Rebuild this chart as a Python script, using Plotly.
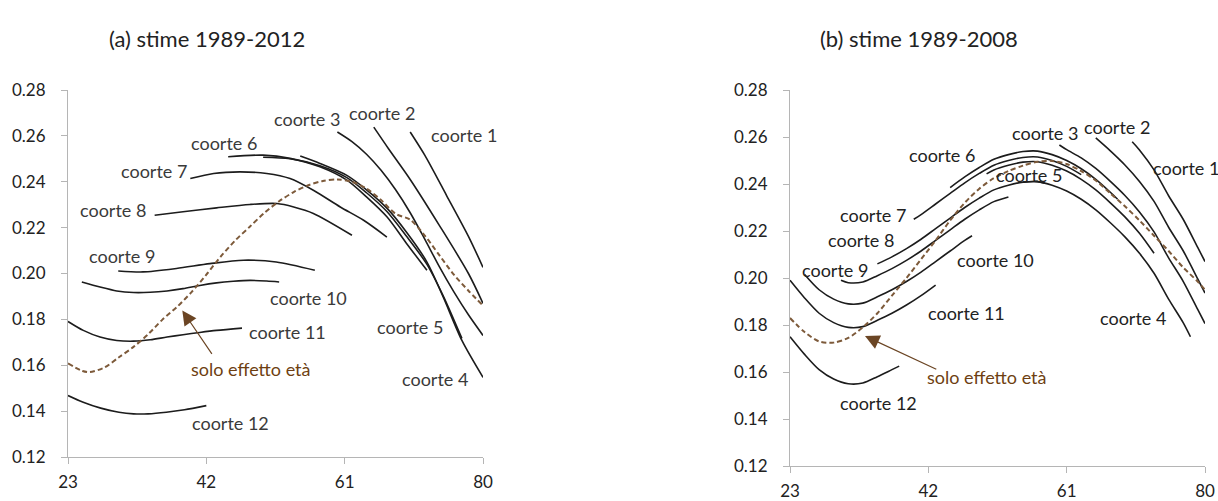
import plotly.graph_objects as go

# ---------------- Panel (a): stime 1989-2012 ----------------
a_c1_age = [70, 72, 75, 78, 80]
a_c1_val = [0.2617, 0.2516, 0.2340, 0.2162, 0.2027]
a_c2_age = [65, 67, 70, 74, 78, 80]
a_c2_val = [0.2638, 0.2545, 0.2410, 0.2210, 0.2000, 0.1870]
a_c3_age = [60, 62, 64, 66, 68, 70, 72, 74, 76, 78, 80]
a_c3_val = [0.2617, 0.2575, 0.2520, 0.2450, 0.2365, 0.2265, 0.2150, 0.2030, 0.1920, 0.1820, 0.1730]
a_c4_age = [54.9, 57.6, 61.3, 64, 66.8, 69.5, 72.3, 74.5, 77.1, 80]
a_c4_val = [0.2512, 0.2480, 0.2428, 0.2365, 0.2285, 0.2180, 0.2050, 0.1900, 0.1708, 0.1547]
a_c5_age = [49.8, 53.5, 57.6, 61.3, 64, 66.8, 69.5, 72.3, 74.5, 77.1]
a_c5_val = [0.2507, 0.2500, 0.2470, 0.2418, 0.2352, 0.2270, 0.2162, 0.2040, 0.1905, 0.1717]
a_c6_age = [45, 49.8, 53.5, 57.6, 61.3, 64, 66.8, 69.5, 72.3]
a_c6_val = [0.2509, 0.2516, 0.2502, 0.2465, 0.2407, 0.2334, 0.2247, 0.2131, 0.2014]
a_c7_age = [39.8, 43, 46.6, 50.3, 53.5, 56.7, 60.4, 63.6, 66.8]
a_c7_val = [0.2414, 0.2436, 0.2443, 0.2436, 0.2414, 0.2363, 0.2290, 0.2232, 0.2159]
a_c8_age = [34.9, 38.8, 43.4, 48, 51.7, 54, 56.7, 62]
a_c8_val = [0.2254, 0.2269, 0.2286, 0.2301, 0.2305, 0.2290, 0.2262, 0.2167]
a_c9_age = [29.9, 33.3, 37.9, 42.5, 47.1, 51.6, 56.9]
a_c9_val = [0.2011, 0.2007, 0.2022, 0.2043, 0.2058, 0.2050, 0.2014]
a_c10_age = [24.9, 27.4, 29.7, 32, 34.3, 36.6, 38.8, 41.1, 43.4, 45.7, 48, 50.3, 52]
a_c10_val = [0.1963, 0.1941, 0.1924, 0.1917, 0.1918, 0.1924, 0.1934, 0.1948, 0.1959, 0.1966, 0.1970, 0.1967, 0.1963]
a_c11_age = [23, 25.1, 27.4, 29.7, 32, 34.3, 36.6, 38.8, 41.1, 43.4, 46.9]
a_c11_val = [0.1791, 0.1752, 0.1723, 0.1708, 0.1705, 0.1711, 0.1723, 0.1733, 0.1743, 0.1752, 0.1762]
a_c12_age = [23, 25, 27.5, 30, 32, 34, 36.5, 39, 42]
a_c12_val = [0.1468, 0.1440, 0.1413, 0.1395, 0.1388, 0.1388, 0.1395, 0.1406, 0.1424]
a_age_only_age = [23, 25, 26, 28, 30, 32, 34, 36, 38, 40, 42, 44, 46, 48, 50, 52, 54, 56, 58, 60,
                  62, 64, 66, 68, 70, 72, 74, 76, 78, 80]
a_age_only_val = [0.1608, 0.1575, 0.1570, 0.1590, 0.1635, 0.1680, 0.1735, 0.1800, 0.1855, 0.1920,
                  0.1995, 0.2075, 0.2145, 0.2205, 0.2265, 0.2315, 0.2355, 0.2385, 0.2403, 0.2410,
                  0.2400, 0.2370, 0.2320, 0.2260, 0.2235, 0.2165, 0.2080, 0.1995, 0.1925, 0.1860]

# ---------------- Panel (b): stime 1989-2008 ----------------
b_c1_age = [70, 71, 73, 75, 77, 79, 80]
b_c1_val = [0.2580, 0.2545, 0.2460, 0.2350, 0.2250, 0.2130, 0.2070]
b_c2_age = [65, 67, 69, 71, 73, 75, 77, 79, 80]
b_c2_val = [0.2596, 0.2541, 0.2481, 0.2411, 0.2326, 0.2216, 0.2116, 0.1996, 0.1936]
b_c3_age = [60, 61, 63, 65, 67, 69, 71, 73, 75, 77, 79, 80]
b_c3_val = [0.2566, 0.2546, 0.2511, 0.2466, 0.2411, 0.2351, 0.2281, 0.2196, 0.2086, 0.1986, 0.1866, 0.1806]
b_c4_age = [55, 57, 59, 61, 63, 65, 67, 69, 71, 73, 75, 77, 78]
b_c4_val = [0.2408, 0.2410, 0.2395, 0.2370, 0.2335, 0.2290, 0.2235, 0.2175, 0.2105, 0.2020, 0.1910, 0.1810, 0.1750]
b_c5_age = [50, 51, 53, 55, 57, 59, 61, 63, 65, 67, 69, 71, 73]
b_c5_val = [0.2443, 0.2460, 0.2480, 0.2493, 0.2495, 0.2480, 0.2455, 0.2420, 0.2375, 0.2320, 0.2260, 0.2190, 0.2105]
b_c6_age = [45, 47, 49, 51, 53, 55, 57, 59, 61, 63, 65, 67, 68]
b_c6_val = [0.2385, 0.2430, 0.2470, 0.2505, 0.2525, 0.2538, 0.2540, 0.2525, 0.2500, 0.2465, 0.2420, 0.2365, 0.2335]
b_c7_age = [40, 41, 43, 45, 47, 49, 51, 53, 55, 57, 59, 61, 63]
b_c7_val = [0.2250, 0.2270, 0.2315, 0.2360, 0.2405, 0.2445, 0.2480, 0.2500, 0.2513, 0.2515, 0.2500, 0.2475, 0.2440]
b_c8_age = [35, 37, 39, 41, 43, 45, 47, 49, 51, 53, 55, 57, 58]
b_c8_val = [0.2060, 0.2090, 0.2125, 0.2165, 0.2210, 0.2255, 0.2300, 0.2340, 0.2375, 0.2395, 0.2408, 0.2410, 0.2403]
b_c9_age = [30, 31, 33, 35, 37, 39, 41, 43, 45, 47, 49, 51, 53]
b_c9_val = [0.1990, 0.1980, 0.1983, 0.2010, 0.2040, 0.2075, 0.2115, 0.2160, 0.2205, 0.2250, 0.2290, 0.2325, 0.2345]
b_c10_age = [25, 27, 29, 31, 33, 35, 37, 39, 41, 43, 45, 47, 48]
b_c10_val = [0.2015, 0.1950, 0.1910, 0.1890, 0.1893, 0.1920, 0.1950, 0.1985, 0.2025, 0.2070, 0.2115, 0.2160, 0.2180]
b_c11_age = [23, 25, 27, 29, 31, 33, 35, 37, 39, 41, 43]
b_c11_val = [0.1990, 0.1915, 0.1850, 0.1810, 0.1790, 0.1793, 0.1820, 0.1850, 0.1885, 0.1925, 0.1970]
b_c12_age = [23, 25, 27, 29, 31, 33, 35, 37, 38]
b_c12_val = [0.1750, 0.1675, 0.1610, 0.1570, 0.1550, 0.1553, 0.1580, 0.1610, 0.1625]
b_age_only_age = [23, 25, 27, 29, 31, 33, 35, 37, 39, 41, 43, 45, 47, 49, 51, 53, 55, 57, 59,
                  61, 63, 65, 67, 69, 71, 73, 75, 77, 79, 80]
b_age_only_val = [0.1830, 0.1770, 0.1730, 0.1725, 0.1745, 0.1790, 0.1850, 0.1925, 0.2000, 0.2080,
                  0.2160, 0.2245, 0.2320, 0.2380, 0.2425, 0.2455, 0.2478, 0.2495, 0.2498, 0.2485,
                  0.2455, 0.2415, 0.2360, 0.2305, 0.2245, 0.2180, 0.2115, 0.2045, 0.1985, 0.1950]

x_ticks = [23, 42, 61, 80]
y_ticks = [0.12, 0.14, 0.16, 0.18, 0.20, 0.22, 0.24, 0.26, 0.28]
y_ticklabels = ["0.12", "0.14", "0.16", "0.18", "0.20", "0.22", "0.24", "0.26", "0.28"]

titles = ["(a) stime 1989-2012", "(b) stime 1989-2008"]

# label positions (age, value) for each panel
a_labels = [("coorte 1", 77.4, 0.2604), ("coorte 2", 66.1, 0.2700), ("coorte 3", 55.8, 0.2673),
            ("coorte 6", 44.4, 0.2569), ("coorte 7", 34.8, 0.2446), ("coorte 8", 29.2, 0.2276),
            ("coorte 9", 30.4, 0.2075), ("coorte 10", 56.1, 0.1892), ("coorte 11", 53.2, 0.1743),
            ("coorte 12", 45.3, 0.1350), ("coorte 5", 70.0, 0.1765), ("coorte 4", 73.4, 0.1538)]
b_labels = [("coorte 1", 77.4, 0.2468), ("coorte 2", 67.9, 0.2643), ("coorte 3", 58.0, 0.2617),
            ("coorte 5", 55.8, 0.2438), ("coorte 6", 43.9, 0.2523), ("coorte 7", 34.4, 0.2268),
            ("coorte 8", 32.8, 0.2162), ("coorte 9", 29.2, 0.2034), ("coorte 10", 51.2, 0.2077),
            ("coorte 11", 47.2, 0.1851), ("coorte 12", 35.2, 0.1468), ("coorte 4", 70.1, 0.1830)]

age_label = "solo effetto età"
a_age_label_pos = (48.1, 0.1582)
a_arrow_tip = (38.7, 0.1839)
a_arrow_tail = (42.9, 0.1643)
b_age_label_pos = (50.1, 0.1579)
b_arrow_tip = (33.3, 0.1753)
b_arrow_tail = (43.3, 0.1609)

LINE = "#1c1c1c"
BROWN = "#7d5a3a"
TXT = "#3a3a3a"
LAB_BROWN = "#6e3f12"
ARROW = "#6b4524"
LBL_FONT = "Lato"
LBL_SIZE = 18
DASH = "5px,3px"

W, H = 1218, 501

fig = go.Figure()

a_series = [(a_c1_age, a_c1_val), (a_c2_age, a_c2_val), (a_c3_age, a_c3_val), (a_c4_age, a_c4_val),
            (a_c5_age, a_c5_val), (a_c6_age, a_c6_val), (a_c7_age, a_c7_val), (a_c8_age, a_c8_val),
            (a_c9_age, a_c9_val), (a_c10_age, a_c10_val), (a_c11_age, a_c11_val), (a_c12_age, a_c12_val)]
b_series = [(b_c1_age, b_c1_val), (b_c2_age, b_c2_val), (b_c3_age, b_c3_val), (b_c4_age, b_c4_val),
            (b_c5_age, b_c5_val), (b_c6_age, b_c6_val), (b_c7_age, b_c7_val), (b_c8_age, b_c8_val),
            (b_c9_age, b_c9_val), (b_c10_age, b_c10_val), (b_c11_age, b_c11_val), (b_c12_age, b_c12_val)]

for i, (xs, ys) in enumerate(a_series):
    fig.add_trace(go.Scatter(x=xs, y=ys, mode="lines", name=f"coorte {i+1}",
                             line=dict(color=LINE, width=1.6, shape="spline", smoothing=0.8),
                             xaxis="x", yaxis="y", showlegend=False, hoverinfo="skip"))
fig.add_trace(go.Scatter(x=a_age_only_age, y=a_age_only_val, mode="lines", name=age_label,
                         line=dict(color=BROWN, width=2, dash=DASH, shape="spline", smoothing=0.8),
                         xaxis="x", yaxis="y", showlegend=False, hoverinfo="skip"))
for i, (xs, ys) in enumerate(b_series):
    fig.add_trace(go.Scatter(x=xs, y=ys, mode="lines", name=f"coorte {i+1}",
                             line=dict(color=LINE, width=1.6, shape="spline", smoothing=0.8),
                             xaxis="x2", yaxis="y2", showlegend=False, hoverinfo="skip"))
fig.add_trace(go.Scatter(x=b_age_only_age, y=b_age_only_val, mode="lines", name=age_label,
                         line=dict(color=BROWN, width=2, dash=DASH, shape="spline", smoothing=0.8),
                         xaxis="x2", yaxis="y2", showlegend=False, hoverinfo="skip"))

annotations = []
for (txt, ax_, ay_) in a_labels:
    annotations.append(dict(x=ax_, y=ay_, xref="x", yref="y", text=txt, showarrow=False,
                            xanchor="center", yanchor="middle",
                            font=dict(family=LBL_FONT, size=LBL_SIZE, color=TXT)))
for (txt, ax_, ay_) in b_labels:
    annotations.append(dict(x=ax_, y=ay_, xref="x2", yref="y2", text=txt, showarrow=False,
                            xanchor="center", yanchor="middle",
                            font=dict(family=LBL_FONT, size=LBL_SIZE, color="#222222")))

for (xr, yr, pos, tip, tail) in [("x", "y", a_age_label_pos, a_arrow_tip, a_arrow_tail),
                                 ("x2", "y2", b_age_label_pos, b_arrow_tip, b_arrow_tail)]:
    annotations.append(dict(x=pos[0], y=pos[1], xref=xr, yref=yr, text=age_label, showarrow=False,
                            xanchor="center", yanchor="middle",
                            font=dict(family=LBL_FONT, size=LBL_SIZE, color=LAB_BROWN)))
    annotations.append(dict(x=tip[0], y=tip[1], xref=xr, yref=yr, ax=tail[0], ay=tail[1],
                            axref=xr, ayref=yr, text="", showarrow=True, arrowhead=2,
                            arrowsize=2.4, arrowwidth=1.2, arrowcolor=ARROW))

title_y = 1 - 38 / H
annotations.append(dict(x=207 / W, y=title_y, xref="paper", yref="paper", text=titles[0], showarrow=False,
                        xanchor="center", yanchor="middle",
                        font=dict(family="Lato", size=22, color="#222222")))
annotations.append(dict(x=919 / W, y=title_y, xref="paper", yref="paper", text=titles[1], showarrow=False,
                        xanchor="center", yanchor="middle",
                        font=dict(family="Lato", size=22, color="#222222")))

axis_common = dict(showgrid=False, zeroline=False, showline=True, linecolor="#b5b5b5", linewidth=1,
                   ticks="outside", tickcolor="#b5b5b5", ticklen=6, automargin=False,
                   tickfont=dict(family="Lato", size=17, color="#222222"))

fig.update_layout(
    width=W, height=H,
    margin=dict(l=0, r=0, t=0, b=0, autoexpand=False),
    paper_bgcolor="white", plot_bgcolor="white",
    showlegend=False,
    xaxis=dict(domain=[68 / W, 483 / W], range=[23, 80], tickvals=x_ticks, ticktext=[str(v) for v in x_ticks],
               anchor="y", ticklabelstandoff=4, **axis_common),
    yaxis=dict(domain=[1 - 457 / H, 1 - 90 / H], range=[0.12, 0.28], tickvals=y_ticks, ticktext=y_ticklabels,
               anchor="x", ticklabelstandoff=12, **axis_common),
    xaxis2=dict(domain=[790 / W, 1205 / W], range=[23, 80], tickvals=x_ticks, ticktext=[str(v) for v in x_ticks],
                anchor="y2", ticklabelstandoff=4, **axis_common),
    yaxis2=dict(domain=[1 - 466 / H, 1 - 90 / H], range=[0.12, 0.28], tickvals=y_ticks, ticktext=y_ticklabels,
                anchor="x2", ticklabelstandoff=12, **axis_common),
    annotations=annotations,
)

fig.write_html("out.html", config={"displayModeBar": False},
               post_script="document.body.style.margin='0';document.body.style.overflow='hidden';")
